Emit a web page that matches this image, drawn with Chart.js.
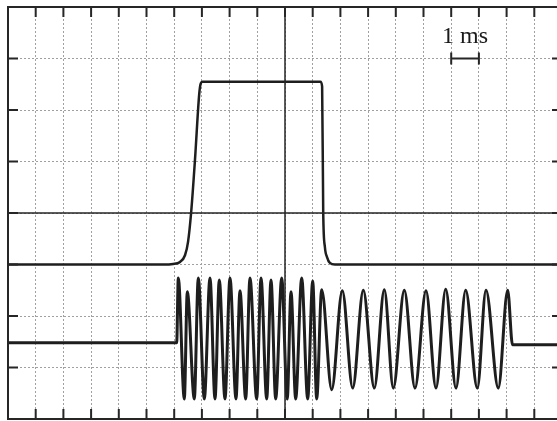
<!DOCTYPE html>
<html>
<head>
<meta charset="utf-8">
<script src="https://cdn.jsdelivr.net/npm/chart.js@4/dist/chart.umd.min.js"></script>
<style>
  html, body { margin: 0; padding: 0; background: #fff; overflow: hidden; }
  canvas { display: block; }
</style>
</head>
<body>
<canvas id="scope" width="570" height="421"></canvas>
<script>
// time in ms (1 division = 1 ms), level in divisions
const timeTicks = [1,2,3,4,5,6,7,8,9,10,11,12,13,14,15,16,17,18,19];
const levelTicks = [-3,-2,-1,0,1,2,3];

// gate pulse trace
const pulseTime  = [0, 5.6, 5.96, 6.21, 6.39, 6.50, 6.61, 6.75, 6.90, 6.95, 7.02, 11.28, 11.34, 11.38, 11.44, 11.52, 11.62, 11.8, 20];
const pulseLevel = [-1.0, -1.0, -0.99, -0.95, -0.82, -0.56, 0, 1.03, 2.29, 2.50, 2.55, 2.55, 2.46, 0, -0.66, -0.86, -0.97, -1.0, -1.0];

// burst trace, read peak by peak
const burstTime = [0, 6.09, 6.148, 6.365, 6.473, 6.726, 6.870, 7.087, 7.292, 7.473, 7.628, 7.834, 8.014, 8.231, 8.375, 8.581,
  8.736, 8.978, 9.134, 9.339, 9.495, 9.664, 9.881, 10.08, 10.217, 10.386, 10.603, 10.819, 11.000, 11.144, 11.325, 11.686,
  12.069, 12.444, 12.827, 13.224, 13.585, 13.910, 14.307, 14.693, 15.090, 15.451, 15.801, 16.173, 16.523, 16.942, 17.256,
  17.700, 18.040, 18.213, 20];
const burstLevel = [-2.52, -2.52, -1.26, -3.61, -1.53, -3.61, -1.26, -3.61, -1.26, -3.61, -1.30, -3.61, -1.26, -3.61, -1.51, -3.61,
  -1.26, -3.61, -1.26, -3.61, -1.30, -3.61, -1.26, -3.61, -1.53, -3.61, -1.26, -3.61, -1.32, -3.61, -1.49, -3.43,
  -1.51, -3.40, -1.50, -3.40, -1.49, -3.40, -1.50, -3.40, -1.51, -3.40, -1.48, -3.40, -1.50, -3.40, -1.50,
  -3.40, -1.50, -2.56, -2.56];

const scaleBar = { from: 16, to: 17, level: 3, label: '1 ms' };

function toPoints(xs, ys) {
    return xs.map((x, i) => ({ x: x, y: ys[i] }));
}

const scopeFrame = {
    id: 'scopeFrame',
    afterDraw(chart) {
        const ctx = chart.ctx;
        const a = chart.chartArea;
        const xs = chart.scales.x;
        const ys = chart.scales.y;
        ctx.save();
        ctx.strokeStyle = '#262626';
        ctx.fillStyle = '#1a1a1a';

        // centre cross
        ctx.lineWidth = 1.5;
        ctx.beginPath();
        const cx = xs.getPixelForValue(10), cy = ys.getPixelForValue(0);
        ctx.moveTo(cx, a.top); ctx.lineTo(cx, a.bottom);
        ctx.moveTo(a.left, cy); ctx.lineTo(a.right, cy);
        ctx.stroke();

        // inward ticks on the frame
        ctx.lineWidth = 2;
        ctx.beginPath();
        timeTicks.forEach(t => {
            const px = xs.getPixelForValue(t);
            ctx.moveTo(px, a.top); ctx.lineTo(px, a.top + 10);
            ctx.moveTo(px, a.bottom); ctx.lineTo(px, a.bottom - 10);
        });
        levelTicks.forEach(v => {
            const py = ys.getPixelForValue(v);
            ctx.moveTo(a.left, py); ctx.lineTo(a.left + 10, py);
            ctx.moveTo(a.right, py); ctx.lineTo(a.right - 10, py);
        });
        ctx.stroke();

        ctx.lineWidth = 2;
        ctx.strokeRect(a.left, a.top, a.right - a.left, a.bottom - a.top);

        // time scale bar
        const x1 = xs.getPixelForValue(scaleBar.from), x2 = xs.getPixelForValue(scaleBar.to);
        const by = ys.getPixelForValue(scaleBar.level);
        ctx.beginPath();
        ctx.moveTo(x1, by); ctx.lineTo(x2, by);
        ctx.moveTo(x1, by - 6); ctx.lineTo(x1, by + 6);
        ctx.moveTo(x2, by - 6); ctx.lineTo(x2, by + 6);
        ctx.stroke();
        ctx.font = '24px "Liberation Serif"';
        ctx.textAlign = 'center';
        ctx.textBaseline = 'alphabetic';
        ctx.fillText(scaleBar.label, (x1 + x2) / 2, by - 16);
        ctx.restore();
    }
};

const data = {
    datasets: [{
        label: 'pulse',
        data: toPoints(pulseTime, pulseLevel),
        borderColor: '#1e1e1e',
        borderWidth: 2.5,
        pointRadius: 0,
        cubicInterpolationMode: 'monotone'
    }, {
        label: 'burst',
        data: toPoints(burstTime, burstLevel),
        borderColor: '#1e1e1e',
        borderWidth: 3,
        pointRadius: 0,
        cubicInterpolationMode: 'monotone'
    }]
};

const gridStyle = { color: '#a0a0a0', lineWidth: 1, drawTicks: false };

const options = {
    responsive: false,
    animation: false,
    layout: { padding: { left: 8, top: 7, right: 8, bottom: 2 } },
    plugins: { legend: { display: false }, tooltip: { enabled: false } },
    scales: {
        x: {
            type: 'linear', min: 0, max: 20,
            ticks: { display: false, stepSize: 1 },
            grid: gridStyle,
            border: { display: false, dash: [2, 2] }
        },
        y: {
            type: 'linear', min: -4, max: 4,
            ticks: { display: false, stepSize: 1 },
            grid: gridStyle,
            border: { display: false, dash: [2, 2] }
        }
    }
};

const config = {
    type: 'line',
    data: data,
    options: options,
    plugins: [scopeFrame]
};

new Chart(document.getElementById('scope').getContext('2d'), config);
</script>
</body>
</html>
